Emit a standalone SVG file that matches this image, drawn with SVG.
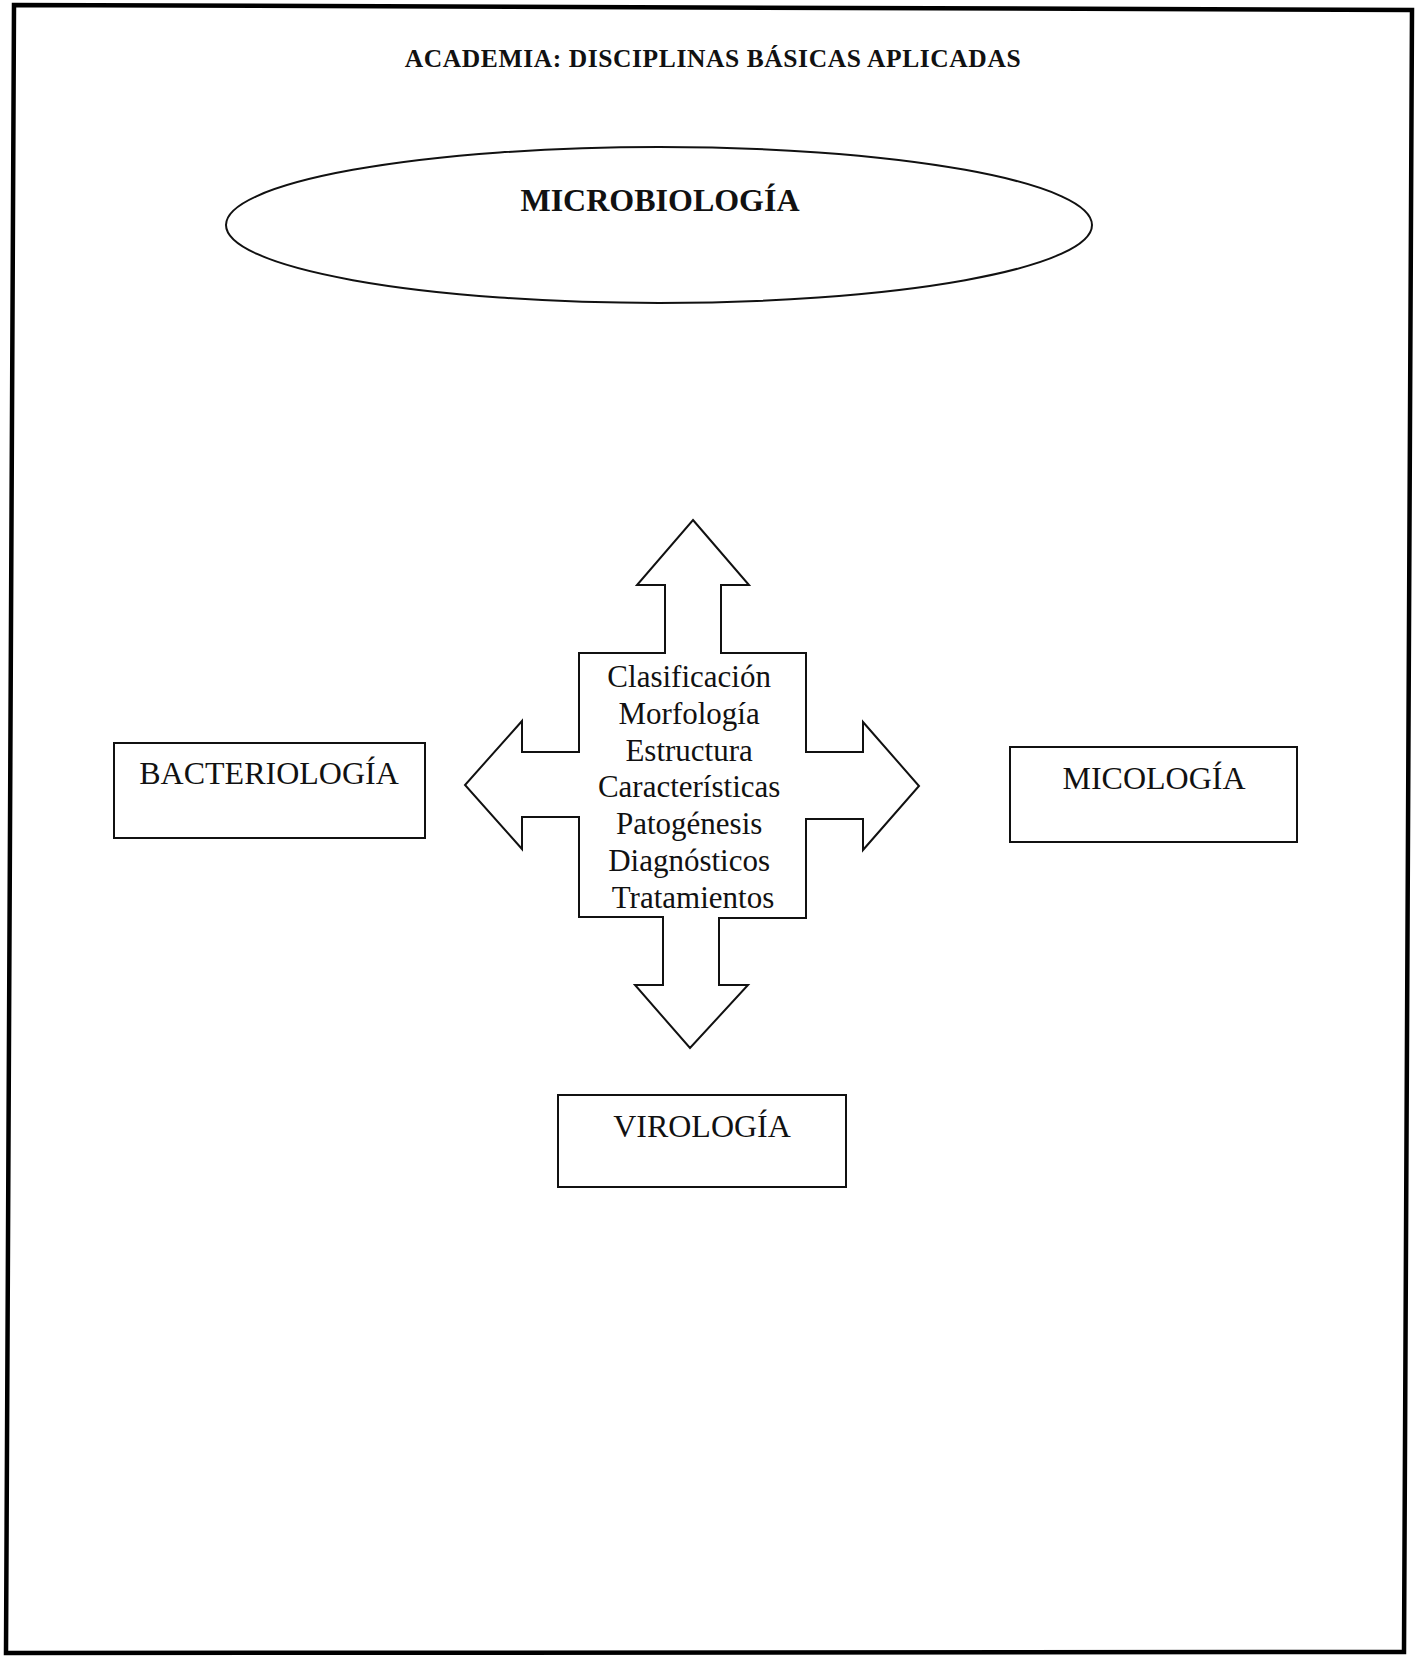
<svg xmlns="http://www.w3.org/2000/svg" width="1422" height="1656" viewBox="0 0 1422 1656">
<style>
.line{fill:#fff;stroke:#111;stroke-width:2}
.t{font-family:"Liberation Serif","Times New Roman",serif;fill:#111;text-anchor:middle}
.b{font-weight:bold}
</style>
<rect width="1422" height="1656" fill="#fff"/>
<polygon id="frame" points="14,5 1412,10 1404,1652 6,1653" fill="none" stroke="#000" stroke-width="4.5"/>
<g id="title">
<text class="t b" x="713" y="67" font-size="25.5" letter-spacing="0.6">ACADEMIA: DISCIPLINAS BÁSICAS APLICADAS</text>
</g>
<g id="microbiologia">
<ellipse class="line" cx="659" cy="225" rx="433" ry="78"/>
<text class="t b" x="660" y="211" font-size="32">MICROBIOLOGÍA</text>
</g>
<g id="connectors">
<polygon class="line" points="693,520 749,585 721,585 721,653 806,653 806,752 863,752 863,722 919,786 863,850 863,819 806,819 806,918 719,918 719,985 748,985 690,1048 635,985 663,985 663,917 579,917 579,817 522,817 522,849 465,785 522,721 522,752 579,752 579,653 665,653 665,585 637,585"/>
</g>
<g id="center-list">
<text class="t" x="693" font-size="31">
<tspan x="693" y="687">Clasificación</tspan>
<tspan x="693" y="724">Morfología</tspan>
<tspan x="693" y="761">Estructura</tspan>
<tspan x="693" y="797">Características</tspan>
<tspan x="693" y="834">Patogénesis</tspan>
<tspan x="693" y="871">Diagnósticos</tspan>
<tspan x="693" y="908">Tratamientos</tspan>
</text>
</g>
<g id="bacteriologia">
<rect class="line" x="114" y="743" width="311" height="95"/>
<text class="t" x="269" y="784" font-size="32">BACTERIOLOGÍA</text>
</g>
<g id="micologia">
<rect class="line" x="1010" y="747" width="287" height="95"/>
<text class="t" x="1154" y="789" font-size="32">MICOLOGÍA</text>
</g>
<g id="virologia">
<rect class="line" x="558" y="1095" width="288" height="92"/>
<text class="t" x="702" y="1137" font-size="32">VIROLOGÍA</text>
</g>
</svg>
